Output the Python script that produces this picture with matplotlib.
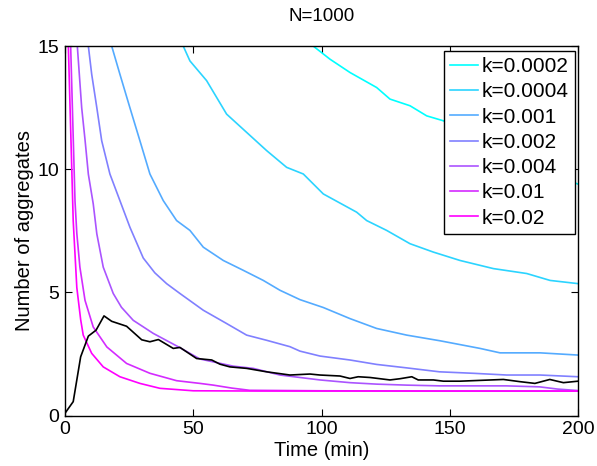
import matplotlib
matplotlib.use("Agg")
import matplotlib.pyplot as plt

plt.rcParams['font.family'] = ['Liberation Sans', 'DejaVu Sans']

labels = ["k=0.0002", "k=0.0004", "k=0.001", "k=0.002", "k=0.004", "k=0.01", "k=0.02"]
colors = [(0.0, 1.0, 1.0), (0.17, 0.83, 1.0), (0.33, 0.67, 1.0), (0.5, 0.5, 1.0),
          (0.67, 0.33, 1.0), (0.83, 0.17, 1.0), (1.0, 0.0, 1.0)]

t_k0002 = [90, 96.8, 103.3, 111.1, 121.5, 126.7, 134.5, 141, 147.5, 160, 175, 190, 200]
v_k0002 = [15.8, 15.0, 14.47, 13.93, 13.32, 12.85, 12.58, 12.17, 11.97, 11.3, 10.5, 9.8, 9.4]

t_k0004 = [42, 46.1, 48.7, 55.2, 63, 70.8, 78.6, 86.4, 92.9, 100.7, 113.7, 117.6, 125.4,
           134.5, 143.6, 148.8, 154, 167, 180, 189.1, 200]
v_k0004 = [16.0, 15.0, 14.4, 13.6, 12.24, 11.5, 10.76, 10.08, 9.81, 9.0, 8.26, 7.92, 7.52,
           6.98, 6.64, 6.47, 6.3, 5.97, 5.77, 5.49, 5.36]

t_k001 = [16, 18.2, 21.4, 25.3, 29.2, 33.1, 38.3, 43.5, 48.7, 53.9, 61.7, 69.5, 77.3, 83.8,
          91.6, 100.7, 111.1, 121.5, 133.2, 146.2, 161.8, 169.6, 185.2, 200]
v_k001 = [16.0, 15.0, 13.86, 12.5, 11.16, 9.81, 8.73, 7.92, 7.52, 6.84, 6.3, 5.9, 5.49, 5.09,
          4.71, 4.39, 3.94, 3.54, 3.27, 3.04, 2.73, 2.55, 2.55, 2.46]

t_k002 = [8, 9.1, 10.4, 12.4, 14.3, 17.5, 21.4, 25.3, 30.5, 35, 39.6, 44.8, 53.9, 63, 70.8, 78.6,
          87.7, 91.6, 99.4, 111.1, 121.5, 133.2, 146, 159.2, 172.2, 185.2, 200]
v_k002 = [16.0, 15.0, 13.86, 12.5, 11.16, 9.81, 8.73, 7.65, 6.4, 5.8, 5.36, 4.96, 4.28, 3.74, 3.27, 3.06,
          2.8, 2.62, 2.42, 2.26, 2.08, 1.94, 1.78, 1.72, 1.65, 1.65, 1.58]

t_k004 = [4.2, 4.8, 6.5, 7.8, 9.1, 11, 12.4, 14.9, 18.8, 22, 26.6, 34.4, 44.8, 52.6, 65.6, 73.4,
          83.8, 91.6, 99.4, 111.1, 121.5, 133.2, 146, 159, 172, 185, 192, 200]
v_k004 = [16.0, 15.0, 12.5, 11.2, 9.8, 8.6, 7.38, 6.03, 4.96, 4.4, 3.87, 3.34, 2.76, 2.3, 2.01, 1.92,
          1.65, 1.55, 1.45, 1.34, 1.28, 1.24, 1.21, 1.21, 1.21, 1.17, 1.08, 1.02]

t_k01 = [1.8, 2.2, 3.9, 4.6, 5.8, 7.8, 11, 16.3, 24, 33.1, 43.5, 52.6, 57.8, 65, 72, 100, 150, 200]
v_k01 = [17.0, 15.0, 8.7, 7.4, 6.03, 4.68, 3.6, 2.79, 2.12, 1.72, 1.42, 1.31, 1.24, 1.12, 1.03,
         1.01, 1.0, 1.0]

t_k02 = [1.0, 1.3, 3.2, 4.6, 6.1, 7.1, 10.4, 14.9, 21.4, 29.2, 37, 50, 76, 100, 150, 200]
v_k02 = [17.0, 15.0, 7.9, 5.2, 3.9, 3.27, 2.53, 1.98, 1.58, 1.31, 1.11, 1.01, 1.0, 1.0, 1.0, 1.0]

t_black = [0, 3.2, 6.1, 9.1, 12.1, 15.2, 18.2, 24, 29.9, 33.1, 36.4, 42.2, 44.8, 51.3, 57.2,
           60.4, 64.3, 70.8, 78.6, 87.7, 95.5, 99.4, 107.2, 111.1, 114.3, 118.9, 126.7, 130.6,
           135.2, 137.7, 143.6, 147.5, 154, 170.9, 177.4, 183.2, 189, 194.3, 200]
v_black = [0.1, 0.57, 2.39, 3.23, 3.47, 4.05, 3.83, 3.63, 3.08, 3.0, 3.09, 2.73, 2.77, 2.32, 2.26,
           2.09, 1.98, 1.92, 1.78, 1.65, 1.69, 1.65, 1.61, 1.51, 1.58, 1.55, 1.45, 1.5,
           1.58, 1.45, 1.45, 1.4, 1.4, 1.47, 1.38, 1.31, 1.47, 1.34, 1.4]

series_t = [t_k0002, t_k0004, t_k001, t_k002, t_k004, t_k01, t_k02]
series_v = [v_k0002, v_k0004, v_k001, v_k002, v_k004, v_k01, v_k02]

fig = plt.figure(figsize=(5.97, 4.66), dpi=100)
ax = fig.add_axes([0.1089, 0.108, 0.8593, 0.793])

for t, v, c, lab in zip(series_t, series_v, colors, labels):
    ax.plot(t, v, color=c, lw=1.2, label=lab)
ax.plot(t_black, v_black, color='black', lw=1.2)

ax.set_xlim(0, 200)
ax.set_ylim(0, 15)
ax.set_xticks([0, 50, 100, 150, 200])
ax.set_yticks([0, 5, 10, 15])
ax.tick_params(direction='in', top=True, right=True, labelsize=14, length=5, width=0.8, pad=4)
for s in ax.spines.values():
    s.set_linewidth(1.0)

ax.set_xlabel("Time (min)", fontsize=14.5, labelpad=2)
ax.set_ylabel("Number of aggregates", fontsize=14.5, labelpad=3)
ax.set_title("N=1000", fontsize=13.5, pad=18)

leg = ax.legend(loc='upper right', bbox_to_anchor=(0.994, 0.987), borderaxespad=0,
                fontsize=15, fancybox=False, framealpha=1, edgecolor='black',
                handlelength=1.3, handletextpad=0.2, labelspacing=0.3, borderpad=0.3)
leg.get_frame().set_linewidth(1.0)

fig.savefig("out.png", dpi=100)
